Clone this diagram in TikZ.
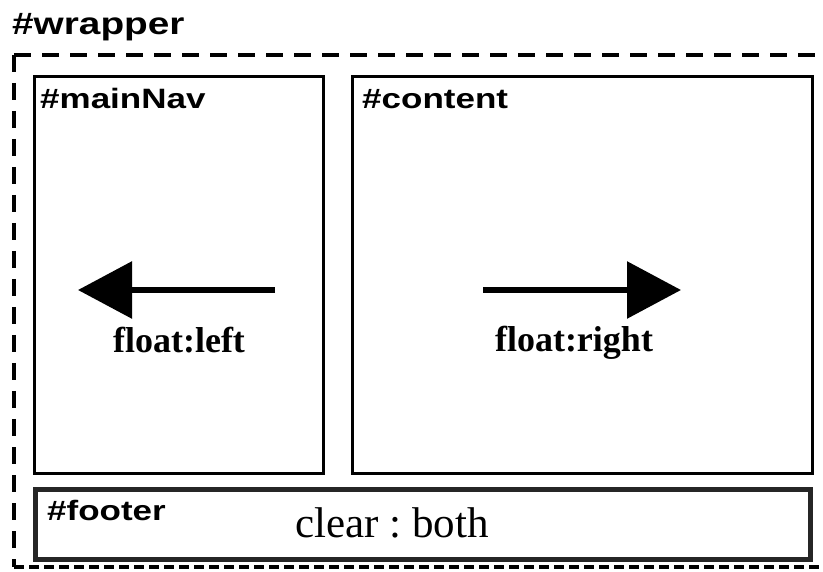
\documentclass[tikz,border=0pt]{standalone}
\usepackage{fontspec}
\setmainfont{Liberation Serif}
\newfontfamily\tagfont[FakeStretch=1.25]{Liberation Sans}
\usetikzlibrary{positioning, arrows.meta}

\begin{document}
\frenchspacing
\begin{tikzpicture}[
  x=1pt, y=-1pt,
  panel/.style={draw, line width=3pt, anchor=north west, inner sep=0pt},
  footbox/.style={panel, line width=4.5pt, draw=black!85},
  tag/.style={anchor=base west, inner sep=0pt, font=\tagfont\bfseries\fontsize{28}{32}\selectfont},
  floatlbl/.style={anchor=base, inner sep=0pt, font=\bfseries\fontsize{36}{42}\selectfont},
  wrapline/.style={line width=4pt, dash pattern=on 17pt off 11pt},
  floatarr/.style={line width=6pt, -{Triangle[length=54pt, width=56pt]}}
]
\useasboundingbox (0,0) rectangle (823,572);

% wrapper (dashed, open on the right)
\coordinate (wtl) at (14,55);
\coordinate (wtr) at (823,55);
\coordinate (wbl) at (14,567);
\coordinate (wbr) at (823,567);
\draw[wrapline] (wtl) -- (wtr);
\draw[wrapline] (wtl) -- (wbl);
\draw[wrapline, dash pattern=on 10pt off 5pt] (wbl) -- (wbr);
\node[tag, font=\tagfont\bfseries\fontsize{31}{36}\selectfont] (wraptag) at (12,35) {\#wrapper};

% columns
\node[panel, minimum width=289pt, minimum height=397pt] (mainNav) at (33,75) {};
\node[panel, minimum width=460pt, minimum height=397pt] (content) at (351,75) {};
\node[footbox, minimum width=775pt, minimum height=70pt] (footer) at (33,487) {};

\node[tag] (navtag) at (40,109) {\#mainNav};
\node[tag] (contag) at (362,109) {\#content};
\node[tag] (foottag) at (47,520) {\#footer};

% float arrows
\coordinate (navtail) at (275,290);
\coordinate (navtip) at (78,290);
\coordinate (contail) at (483,290);
\coordinate (contip) at (681,290);
\draw[floatarr] (navtail) -- (navtip);
\draw[floatarr] (contail) -- (contip);

\node[floatlbl] (navfloat) at (179,353) {float:left};
\node[floatlbl] (confloat) at (574,352) {float:right};
\node[anchor=base, inner sep=0pt, font=\fontsize{43}{50}\selectfont] (clearlbl) at (392,537) {clear : both};

\end{tikzpicture}
\end{document}
